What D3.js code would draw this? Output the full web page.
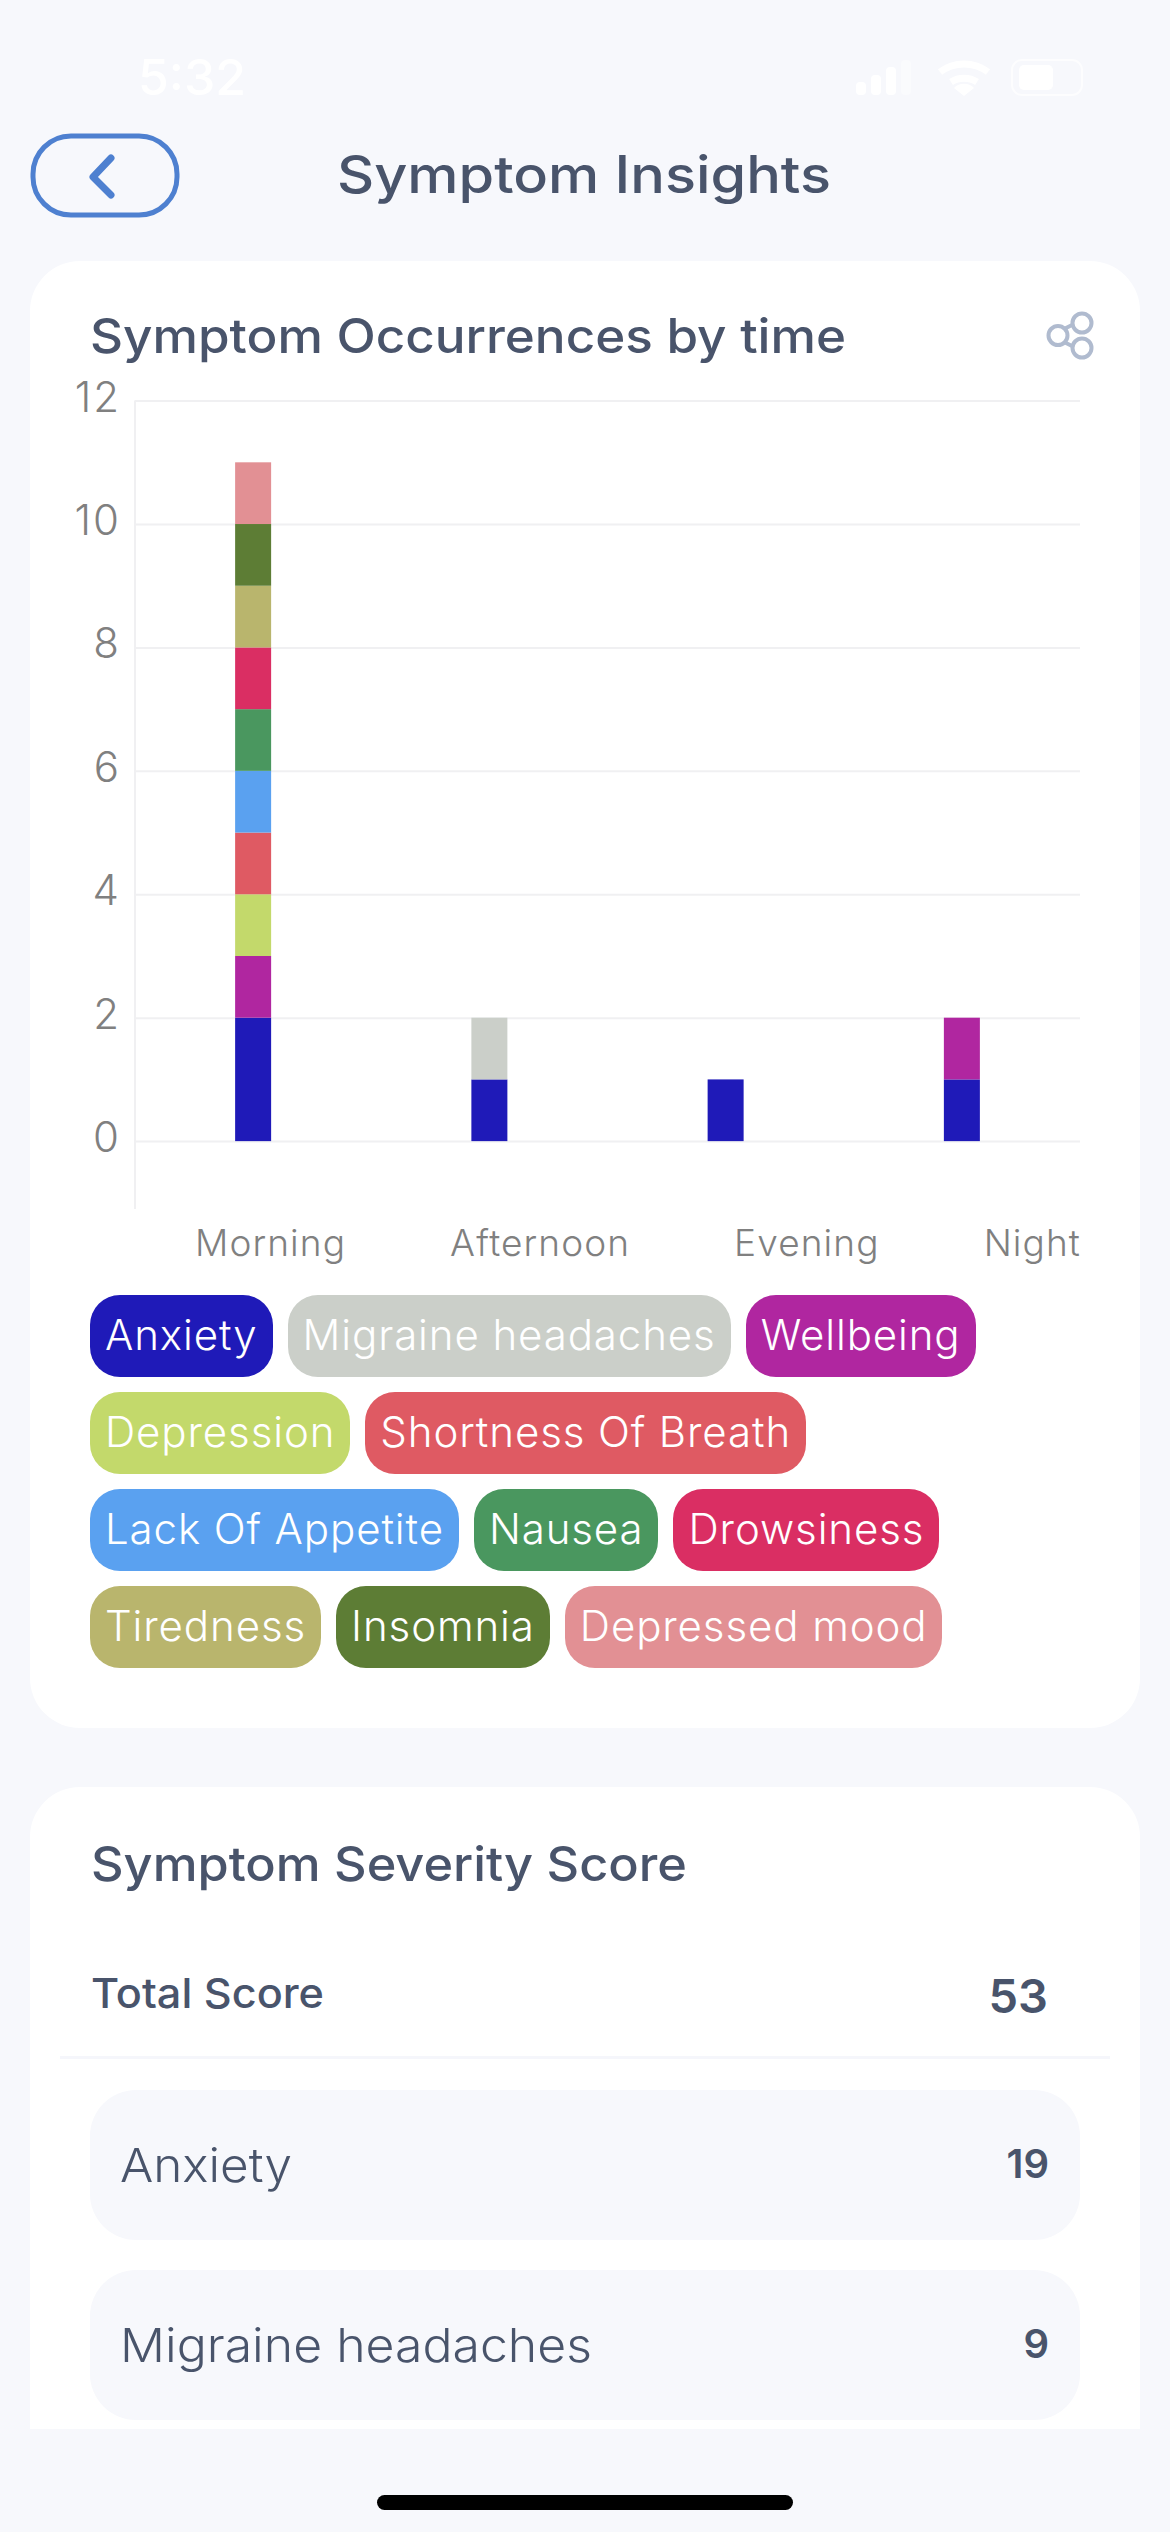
<!DOCTYPE html>
<meta charset="utf-8">
<title>Symptom Insights</title>
<style>
body {
  margin: 0;
  width: 1170px;
  height: 2532px;
  overflow: hidden;
  position: relative;
  background-color: #f7f8fc;
  font-family: 'Inter', sans-serif;
}
svg {
  position: absolute;
  left: 0;
  top: 0;
}
text {
  font-family: 'Inter', sans-serif;
}
.legend {
  position: absolute;
  left: 90px;
  top: 1295px;
  width: 990px;
  display: flex;
  flex-wrap: wrap;
  gap: 15px;
}
.legend span {
  height: 82px;
  line-height: 80px;
  padding: 0 15px;
  border-radius: 30px;
  color: white;
  font-size: 42px;
  font-weight: 300;
  letter-spacing: 0.9px;
  white-space: nowrap;
}
.axis path { stroke: none; }
.axis line { stroke: #f0f0f2; stroke-width: 2; }
.axis text { fill: #808080; font-weight: 300; }
</style>
<svg width="1170" height="2532"></svg>
<div class="legend"></div>
<script src="https://d3js.org/d3.v7.min.js"></script>
<script>
var times = ["Morning", "Afternoon", "Evening", "Night"];
var symptoms = ["Anxiety", "Migraine headaches", "Wellbeing", "Depression", "Shortness Of Breath",
  "Lack Of Appetite", "Nausea", "Drowsiness", "Tiredness", "Insomnia", "Depressed mood"];
var colors = ["#1f1ab8", "#cbcfc9", "#b026a0", "#c3d96b", "#df5a63",
  "#5aa1f0", "#4a975f", "#da2e63", "#b9b56d", "#5d7d35", "#e29094"];
// occurrences per time of day, one list per symptom
var anxiety = [2, 1, 1, 1],
    migraine = [0, 1, 0, 0],
    wellbeing = [1, 0, 0, 1],
    depression = [1, 0, 0, 0],
    shortness = [1, 0, 0, 0],
    appetite = [1, 0, 0, 0],
    nausea = [1, 0, 0, 0],
    drowsiness = [1, 0, 0, 0],
    tiredness = [1, 0, 0, 0],
    insomnia = [1, 0, 0, 0],
    depressedMood = [1, 0, 0, 0];
var yTicks = [0, 2, 4, 6, 8, 10, 12];
var scoreNames = ["Anxiety", "Migraine headaches"];
var scoreValues = [19, 9];
var totalScore = 53;

var dark = "#49546b";
var svg = d3.select("svg");

// text stretched to the width it has in the app (Montserrat is not installed)
function label(x, y, str, size, weight, color, width) {
  var t = svg.append("text")
    .attr("x", x).attr("y", y)
    .attr("font-size", size)
    .attr("font-weight", weight)
    .attr("fill", color)
    .text(str);
  if (width) t.attr("textLength", width).attr("lengthAdjust", "spacingAndGlyphs");
  return t;
}

function box(x, y, w, h, r, fill) {
  return svg.append("rect")
    .attr("x", x).attr("y", y).attr("width", w).attr("height", h)
    .attr("rx", r).attr("fill", fill);
}

// status bar, white on the pale background
label(138, 95, "5:32", 49, 500, "white", 108);
var signal = [13, 20, 28, 35];
signal.forEach(function(h, i) {
  box(856 + i * 15, 95 - h, 10, h, 4, "white").attr("opacity", i == 3 ? 0.4 : 1);
});
svg.append("path")
  .attr("d", "M940 72a40 40 0 0 1 48 0M951 82a24 24 0 0 1 26 0")
  .attr("fill", "none").attr("stroke", "white").attr("stroke-width", 7);
svg.append("path").attr("d", "M954 88l10 8l10 -8a14 14 0 0 0 -20 0z").attr("fill", "white");
box(1012, 60, 70, 35, 10, "none").attr("stroke", "white").attr("stroke-width", 2).attr("opacity", 0.7);
box(1019, 65, 34, 25, 5, "white");

// header
box(33, 136, 144, 79, 38, "none").attr("stroke", "#4e80d0").attr("stroke-width", 5);
svg.append("path")
  .attr("d", "M111 158L93 177L111 195")
  .attr("fill", "none").attr("stroke", "#4e80d0").attr("stroke-width", 7)
  .attr("stroke-linecap", "round").attr("stroke-linejoin", "round");
label(337, 193, "Symptom Insights", 52, 500, dark, 494);

// cards
box(30, 261, 1110, 1467, 50, "white");
svg.append("path")
  .attr("d", "M30 2429V1837a50 50 0 0 1 50 -50H1090a50 50 0 0 1 50 50V2429Z")
  .attr("fill", "white");

label(90, 353, "Symptom Occurrences by time", 48, 500, dark, 756);

// share icon
var shareColor = "#b0bbcf";
svg.append("path")
  .attr("d", "M1060 331L1078 322M1060 340L1078 349")
  .attr("stroke", shareColor).attr("stroke-width", 4);
[[1058, 335.5], [1082, 323], [1082, 348]].forEach(function(c) {
  svg.append("circle").attr("cx", c[0]).attr("cy", c[1]).attr("r", 9.5)
    .attr("fill", "white").attr("stroke", shareColor).attr("stroke-width", 4);
});

// stacked bars
var x = d3.scaleBand().domain(times).range([135, 1080]);
var y = d3.scaleLinear().domain([-1.1, 12]).range([1209, 400.6]);

var rows = times.map(function(t, i) {
  var row = { time: t };
  [anxiety, migraine, wellbeing, depression, shortness, appetite, nausea, drowsiness,
    tiredness, insomnia, depressedMood].forEach(function(s, j) { row[symptoms[j]] = s[i]; });
  return row;
});
var layers = d3.stack().keys(symptoms)(rows);

svg.append("g").attr("class", "axis")
  .attr("transform", "translate(135,0)")
  .call(d3.axisLeft(y).tickValues(yTicks).tickSize(0).tickPadding(14))
  .call(function(g) {
    g.selectAll(".tick line").attr("x2", 945);
    g.selectAll(".tick text").attr("font-size", 42).attr("letter-spacing", 2).attr("dy", "0.25em");
  });
svg.append("line")
  .attr("x1", 135).attr("x2", 135).attr("y1", y(12)).attr("y2", y(-1.1))
  .attr("stroke", "#f0f0f2").attr("stroke-width", 2);

svg.selectAll("g.layer")
  .data(layers)
  .enter().append("g")
    .attr("class", "layer")
    .attr("fill", function(d, i) { return colors[i]; })
  .selectAll("rect")
  .data(function(d) { return d; })
  .enter().append("rect")
    .attr("x", function(d) { return x(d.data.time) + x.bandwidth() / 2 - 18; })
    .attr("y", function(d) { return y(d[1]); })
    .attr("width", 36)
    .attr("height", function(d) { return y(d[0]) - y(d[1]); });

// x labels are spread edge to edge, not centred under their bars
var xAxis = svg.append("g").attr("class", "axis")
  .attr("transform", "translate(0,1256)")
  .call(d3.axisBottom(x).tickSize(0).tickPadding(0));
xAxis.select(".domain").remove();
var ticks = xAxis.selectAll(".tick");
ticks.select("text")
  .attr("font-size", 37)
  .attr("letter-spacing", 1.1)
  .attr("text-anchor", "start")
  .attr("dy", 0)
  .attr("y", 0);
var widths = [];
ticks.select("text").each(function() { widths.push(this.getComputedTextLength()); });
var spare = (1081 - 195 - d3.sum(widths)) / (times.length - 1);
var cursor = 195;
ticks.attr("transform", function(d, i) {
  var at = cursor;
  cursor += widths[i] + spare;
  return "translate(" + at + ",0)";
});

// legend pills
d3.select(".legend").selectAll("span")
  .data(symptoms)
  .enter().append("span")
    .style("background-color", function(d, i) { return colors[i]; })
    .text(function(d) { return d; });

// severity card
label(91, 1881, "Symptom Severity Score", 48, 500, dark, 596);
label(91, 2008, "Total Score", 41, 500, dark, 233);
label(1048, 2013, totalScore, 47, 600, dark).attr("text-anchor", "end");
box(60, 2056, 1050, 3, 0, "#f5f6fb");

var rowWidths = [172, 472];
scoreNames.forEach(function(name, i) {
  var top = 2090 + i * 180;
  box(90, top, 990, 150, 46, "#f7f8fc");
  label(120, top + 92, name, 47, 300, dark, rowWidths[i]);
  label(1049, top + 88, scoreValues[i], 40, 600, dark).attr("text-anchor", "end");
});

box(377, 2495, 416, 15, 7.5, "black");
</script>
